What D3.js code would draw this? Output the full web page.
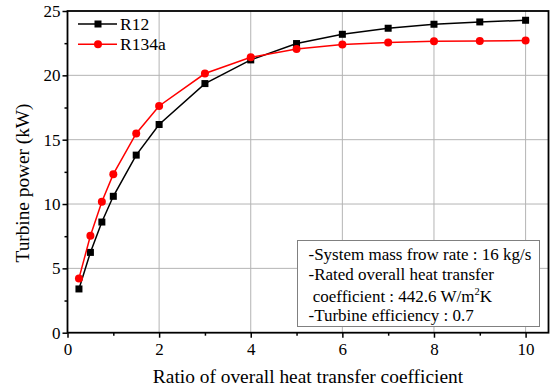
<!DOCTYPE html>
<html><head><meta charset="utf-8">
<script src="https://cdn.jsdelivr.net/npm/d3@7"></script>
<style>body{margin:0;background:#fff}svg{display:block}</style>
</head><body>
<script>
const ratios = [0.25,0.5,0.75,1,1.5,2,3,4,5,6,7,8,9,10];
const r12 = [3.4,6.24,8.6,10.6,13.8,16.18,19.36,21.2,22.47,23.19,23.66,23.97,24.15,24.28];
const r134a = [4.22,7.53,10.17,12.32,15.48,17.62,20.14,21.4,22.05,22.39,22.55,22.65,22.67,22.7];
const seriesNames = ["R12","R134a"];
const xTicks = [0,2,4,6,8,10];
const yTicks = [0,5,10,15,20,25];
const xMinor = [1,3,5,7,9];
const yMinor = [2.5,7.5,12.5,17.5,22.5];
const noteLines = ["-System mass frow rate : 16 kg/s","-Rated overall heat transfer"," coefficient : 442.6 W/m","-Turbine efficiency : 0.7"];

const FF="'Liberation Serif'";
const W=553,H=391;
const svg=d3.select("body").append("svg").attr("width",W).attr("height",H);
const L=67.5,R=548.5,T=11,B=332.7;
const x=d3.scaleLinear().domain([0,10.5]).range([L,R]);
const y=d3.scaleLinear().domain([0,25]).range([B,T]);

// grid
const g=svg.append("g");
g.selectAll(".vg").data(xTicks.filter(d=>d>0)).enter().append("line")
 .attr("x1",d=>x(d)).attr("x2",d=>x(d)).attr("y1",T).attr("y2",B)
 .attr("stroke","#b4b4b4").attr("stroke-width",1);
g.selectAll(".hg").data(yTicks.filter(d=>d>0&&d<25)).enter().append("line")
 .attr("x1",L).attr("x2",R).attr("y1",d=>y(d)).attr("y2",d=>y(d))
 .attr("stroke","#b4b4b4").attr("stroke-width",1);

// axes
const xAx=svg.append("g").attr("transform",`translate(0,${B})`)
 .call(d3.axisBottom(x).tickValues(xTicks).tickSize(5).tickPadding(5).tickFormat(d3.format("d")));
const xAxMinor=svg.append("g").attr("transform",`translate(0,${B})`)
 .call(d3.axisBottom(x).tickValues(xMinor).tickSize(3).tickFormat(""));
const yAx=svg.append("g").attr("transform",`translate(${L},0)`)
 .call(d3.axisLeft(y).tickValues(yTicks).tickSize(5).tickPadding(2).tickFormat(d3.format("d")));
const yAxMinor=svg.append("g").attr("transform",`translate(${L},0)`)
 .call(d3.axisLeft(y).tickValues(yMinor).tickSize(3).tickFormat(""));
[xAx,xAxMinor,yAx,yAxMinor].forEach(a=>{
 a.select(".domain").remove();
 a.attr("font-family",FF).attr("font-size",17);
 a.selectAll("line").attr("stroke","#000").attr("stroke-width",1.5);
 a.selectAll("text").attr("fill","#000").attr("font-family",FF).attr("font-size",17);
});

// frame
svg.append("rect").attr("x",L).attr("y",T).attr("width",R-L).attr("height",B-T)
 .attr("fill","none").attr("stroke","#000").attr("stroke-width",1.8);

// lines
const colors=["#000","#ff0000"];
const data=[r12,r134a];
const line=d3.line().x((d,i)=>x(ratios[i])).y(d=>y(d));
data.forEach((s,k)=>{
 svg.append("path").datum(s).attr("d",line).attr("fill","none").attr("stroke",colors[k]).attr("stroke-width",1.5);
 if(k===0){
  svg.selectAll(".sq").data(s).enter().append("rect")
   .attr("x",(d,i)=>x(ratios[i])-3.5).attr("y",d=>y(d)-3.5).attr("width",7).attr("height",7).attr("fill","#000");
 } else {
  svg.selectAll(".ci").data(s).enter().append("circle")
   .attr("cx",(d,i)=>x(ratios[i])).attr("cy",d=>y(d)).attr("r",4).attr("fill","#ff0000");
 }
});

// legend
seriesNames.forEach((n,k)=>{
 const ly=24+k*20.3;
 svg.append("line").attr("x1",78).attr("x2",117).attr("y1",ly).attr("y2",ly).attr("stroke",colors[k]).attr("stroke-width",1.5);
 if(k===0) svg.append("rect").attr("x",98-3.5).attr("y",ly-3.5).attr("width",7).attr("height",7).attr("fill","#000");
 else svg.append("circle").attr("cx",98).attr("cy",ly).attr("r",4).attr("fill","#ff0000");
 svg.append("text").attr("x",120).attr("y",ly+6).attr("font-size",17.5).attr("font-family",FF).text(n);
});

// note box
svg.append("rect").attr("x",297.5).attr("y",240.5).attr("width",242).attr("height",86)
 .attr("fill","#fff").attr("stroke","#808080").attr("stroke-width",1);
const base=[260,280,301.5,321];
noteLines.forEach((t,i)=>{
 const tx=svg.append("text").attr("x",308.5).attr("y",base[i]).attr("font-size",17).attr("font-family",FF).style("white-space","pre");
 tx.append("tspan").text(t);
 if(i===2){
  tx.append("tspan").attr("font-size",10.5).attr("dy",-6.5).text("2");
  tx.append("tspan").attr("dy",6.5).text("K");
 }
});

// axis titles
svg.append("text").attr("x",(L+R)/2).attr("y",383).attr("text-anchor","middle").attr("font-size",19.4).attr("font-family",FF).text("Ratio of overall heat transfer coefficient");
svg.append("text").attr("transform",`translate(29,183) rotate(-90)`).attr("text-anchor","middle").attr("font-size",19.3).attr("font-family",FF).text("Turbine power (kW)");
</script>
</body></html>
